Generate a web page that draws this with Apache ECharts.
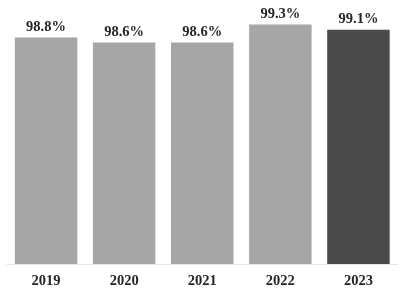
<!DOCTYPE html>
<html>
<head>
<meta charset="utf-8">
<script src="https://cdn.jsdelivr.net/npm/echarts@6/dist/echarts.min.js"></script>
<style>html,body{margin:0;padding:0;background:#fff;}#c{width:404px;height:293px;}</style>
</head>
<body>
<div id="c"></div>
<script>
var categories = ['2019', '2020', '2021', '2022', '2023'];
var values = [98.8, 98.6, 98.6, 99.3, 99.1];
var labels = ['98.8%', '98.6%', '98.6%', '99.3%', '99.1%'];
var barColors = ['#a6a6a6', '#a6a6a6', '#a6a6a6', '#a6a6a6', '#4b4b4b'];

var chart = echarts.init(document.getElementById('c'), null, {renderer: 'canvas'});
chart.setOption({
  animation: false,
  grid: {left: 7, right: 6.5, top: 6.5, bottom: 29},
  xAxis: {
    type: 'category',
    data: categories,
    axisLine: {lineStyle: {color: '#e6e6e6', width: 1}},
    axisTick: {show: false},
    axisLabel: {
      margin: 10,
      color: '#262626',
      fontFamily: 'Liberation Serif',
      fontWeight: 'bold',
      fontSize: 14.5
    }
  },
  yAxis: {
    type: 'value',
    min: 90,
    max: 100,
    show: false
  },
  series: [{
    type: 'bar',
    barCategoryGap: '20%',
    data: values.map(function (v, i) {
      return {value: v, itemStyle: {color: barColors[i]}};
    }),
    label: {
      show: true,
      position: 'top',
      distance: 3,
      color: '#262626',
      fontFamily: 'Liberation Serif',
      fontWeight: 'bold',
      fontSize: 14.5,
      formatter: function (p) { return labels[p.dataIndex]; }
    }
  }]
});
</script>
</body>
</html>
